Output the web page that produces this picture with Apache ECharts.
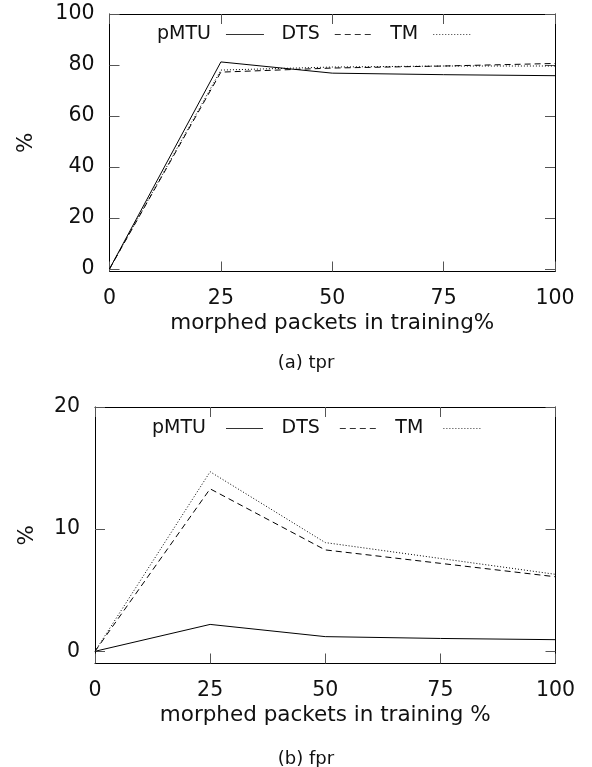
<!DOCTYPE html>
<html>
<head>
<meta charset="utf-8">
<script src="https://cdn.jsdelivr.net/npm/echarts@6/dist/echarts.min.js"></script>
<style>
html,body{margin:0;padding:0;background:#fff;}
#c{width:592px;height:767px;}
</style>
</head>
<body>
<div id="c"></div>
<script>
// ---- data ----
const xValues = [0, 25, 50, 75, 100];
const seriesNames = ['pMTU', 'DTS', 'TM'];
// (a) tpr
const tprPMTU = [0, 81.2, 76.8, 76.2, 75.8];
const tprDTS  = [0, 77.2, 78.8, 79.6, 80.6];
const tprTM   = [0, 78.0, 79.2, 79.6, 79.6];
// (b) fpr
const fprPMTU = [0, 2.2, 1.2, 1.05, 0.95];
const fprDTS  = [0, 13.3, 8.3, 7.2, 6.1];
const fprTM   = [0, 14.7, 8.9, 7.6, 6.3];
// tick labels
const xTicks = [0, 25, 50, 75, 100];
const tprTicks = [0, 20, 40, 60, 80, 100];
const fprTicks = [0, 10, 20];
const xTitleA = 'morphed packets in training%';
const xTitleB = 'morphed packets in training %';
const yTitle = '%';
const captionA = '(a) tpr';
const captionB = '(b) fpr';

const FONT = 'DejaVu Sans';
const FS_TICK = 20.5;
const FS_TITLE = 21.5;
const FS_LEG = 19;
const tickColor = '#555';
const txtColor = '#111';

function pairs(ys){ return xValues.map((x,i)=>[x, ys[i]]); }

const lineStyles = [
  {color:'#000', width:1, type:'solid'},
  {color:'#000', width:1, type:[6,4]},
  {color:'#000', width:1, type:[1,2]}
];

function mkSeries(name, data, idx, gi){
  return {
    name: name, type:'line', data: pairs(data),
    xAxisIndex: gi*2, yAxisIndex: gi*2,
    symbol:'none', lineStyle: lineStyles[idx], color:'#000',
    itemStyle:{color:'#000'},
    silent:true
  };
}

function xAxisMain(gi, title){
  return {
    type:'value', gridIndex: gi, position:'bottom', min:0, max:100, interval:25,
    axisLine:{show:true, onZero:false, lineStyle:{color:'#000', width:1}},
    axisTick:{show:true, inside:true, length:10, lineStyle:{color:tickColor}},
    axisLabel:{show:true, margin:17, fontFamily:FONT, fontSize:FS_TICK, color:txtColor,
      customValues: xTicks},
    splitLine:{show:false},
    name: title, nameLocation:'middle', nameGap:41,
    nameTextStyle:{fontFamily:FONT, fontSize:FS_TITLE, color:txtColor}
  };
}
function xAxisMirror(gi){
  return {
    type:'value', gridIndex: gi, position:'top', min:0, max:100, interval:25,
    axisLine:{show:true, onZero:false, lineStyle:{color:'#000', width:1}},
    axisTick:{show:true, inside:true, length:10, lineStyle:{color:tickColor}},
    axisLabel:{show:false}, splitLine:{show:false}
  };
}
function yAxisMain(gi, maxv, ticks){
  return {
    type:'value', gridIndex: gi, position:'left', min:-1, max:maxv,
    axisLine:{show:true, onZero:false, lineStyle:{color:'#000', width:1}},
    axisTick:{show:true, inside:true, length:10, lineStyle:{color:tickColor}, customValues: ticks},
    axisLabel:{show:true, margin:15, fontFamily:FONT, fontSize:FS_TICK, color:txtColor, customValues: ticks},
    splitLine:{show:false},
    name: yTitle, nameLocation:'middle', nameGap: gi===0 ? 72 : 57, nameRotate:90,
    nameTextStyle:{fontFamily:FONT, fontSize:FS_TITLE, color:txtColor}
  };
}
function yAxisMirror(gi, maxv, ticks){
  return {
    type:'value', gridIndex: gi, position:'right', min:-1, max:maxv,
    axisLine:{show:true, onZero:false, lineStyle:{color:'#000', width:1}},
    axisTick:{show:true, inside:true, length:10, lineStyle:{color:tickColor}, customValues: ticks},
    axisLabel:{show:false}, splitLine:{show:false}
  };
}

function mkLegend(gi, left, top, iw, pad, gap){
  return {
    show:true, left:left, top:top, orient:'horizontal', align:'right',
    itemWidth:iw, itemHeight:14, itemGap:gap,
    data: seriesNames.map(n => ({name: n + (gi===1 ? ' ' : '')})),
    itemStyle:{opacity:0},
    lineStyle:{width:1, color:'#333'},
    textStyle:{fontFamily:FONT, fontSize:FS_LEG, color:txtColor, padding:[0,pad,0,0]},
    selectedMode:false
  };
}

const chart = echarts.init(document.getElementById('c'), null, {renderer:'canvas'});

const series = [];
[tprPMTU, tprDTS, tprTM].forEach((d,i)=>series.push(mkSeries(seriesNames[i], d, i, 0)));
[fprPMTU, fprDTS, fprTM].forEach((d,i)=>series.push(mkSeries(seriesNames[i] + ' ', d, i, 1)));

chart.setOption({
  animation:false,
  backgroundColor:'#fff',
  textStyle:{fontFamily:FONT},
  grid:[
    {left:109.5, top:14, width:445.5, height:257.5, containLabel:false},
    {left:95, top:407, width:460.5, height:256.5, containLabel:false}
  ],
  xAxis:[xAxisMain(0, xTitleA), xAxisMirror(0), xAxisMain(1, xTitleB), xAxisMirror(1)],
  yAxis:[yAxisMain(0, 100, tprTicks), yAxisMirror(0, 100, tprTicks), yAxisMain(1, 20, fprTicks), yAxisMirror(1, 20, fprTicks)],
  legend:[mkLegend(0, 152, 20, 38, 10, 17), mkLegend(1, 147, 414, 37, 9, 18)],
  title:[
    {text:captionA, left:301, top:349, textAlign:'center',
      textStyle:{fontFamily:FONT, fontSize:18, fontWeight:'normal', color:txtColor}},
    {text:captionB, left:301, top:745, textAlign:'center',
      textStyle:{fontFamily:FONT, fontSize:18, fontWeight:'normal', color:txtColor}}
  ],
  series: series
});
</script>
</body>
</html>
